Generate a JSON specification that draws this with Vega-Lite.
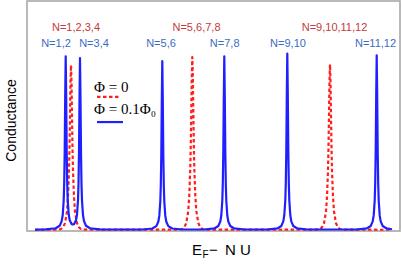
{
  "$schema": "https://vega.github.io/schema/vega-lite/v6.json",
  "width": 373,
  "height": 230,
  "autosize": {"type": "none"},
  "padding": {"left": 27, "top": 1, "right": 2, "bottom": 33},
  "config": {
    "view": {"stroke": "#a3a3a3", "strokeWidth": 1.5},
    "axis": {"ticks": false, "labels": false, "domain": false, "grid": false}
  },
  "datasets": {
    "red": [
      {"x": 8, "y": 0.0005}, {"x": 29, "y": 0.0007}, {"x": 34, "y": 0.0036}, {"x": 36, "y": 0.011}, {"x": 38, "y": 0.029}, {"x": 40, "y": 0.079}, {"x": 41, "y": 0.144}, {"x": 42, "y": 0.259}, {"x": 42.5, "y": 0.36}, {"x": 43, "y": 0.498}, {"x": 43.5, "y": 0.648}, {"x": 44, "y": 0.72}, {"x": 44.5, "y": 0.648}, {"x": 45, "y": 0.498}, {"x": 45.5, "y": 0.36}, {"x": 46, "y": 0.259}, {"x": 47, "y": 0.144}, {"x": 48, "y": 0.079}, {"x": 50, "y": 0.029}, {"x": 52, "y": 0.011}, {"x": 54, "y": 0.0036}, {"x": 59, "y": 0.0007},
      {"x": 150.3, "y": 0.0008}, {"x": 155.3, "y": 0.0038}, {"x": 157.3, "y": 0.0113}, {"x": 159.3, "y": 0.03}, {"x": 161.3, "y": 0.083}, {"x": 162.3, "y": 0.151}, {"x": 163.3, "y": 0.272}, {"x": 163.8, "y": 0.378}, {"x": 164.3, "y": 0.522}, {"x": 164.8, "y": 0.68}, {"x": 165.3, "y": 0.755}, {"x": 165.8, "y": 0.68}, {"x": 166.3, "y": 0.522}, {"x": 166.8, "y": 0.378}, {"x": 167.3, "y": 0.272}, {"x": 168.3, "y": 0.151}, {"x": 169.3, "y": 0.083}, {"x": 171.3, "y": 0.03}, {"x": 173.3, "y": 0.0113}, {"x": 175.3, "y": 0.0038}, {"x": 180.3, "y": 0.0008},
      {"x": 288, "y": 0.0007}, {"x": 293, "y": 0.0036}, {"x": 295, "y": 0.011}, {"x": 297, "y": 0.029}, {"x": 299, "y": 0.08}, {"x": 300, "y": 0.145}, {"x": 301, "y": 0.26}, {"x": 301.5, "y": 0.362}, {"x": 302, "y": 0.5}, {"x": 302.5, "y": 0.651}, {"x": 303, "y": 0.723}, {"x": 303.5, "y": 0.651}, {"x": 304, "y": 0.5}, {"x": 304.5, "y": 0.362}, {"x": 305, "y": 0.26}, {"x": 306, "y": 0.145}, {"x": 307, "y": 0.08}, {"x": 309, "y": 0.029}, {"x": 311, "y": 0.011}, {"x": 313, "y": 0.0036}, {"x": 318, "y": 0.0007}, {"x": 365, "y": 0.0005}
    ],
    "blue": [
      {"x": 8, "y": 0.001}, {"x": 18.7, "y": 0.002}, {"x": 28.7, "y": 0.007}, {"x": 32.7, "y": 0.018}, {"x": 34.7, "y": 0.038}, {"x": 35.7, "y": 0.064}, {"x": 36.7, "y": 0.129}, {"x": 37.2, "y": 0.202}, {"x": 37.7, "y": 0.34}, {"x": 38.2, "y": 0.58}, {"x": 38.7, "y": 0.758}, {"x": 39.2, "y": 0.58}, {"x": 39.7, "y": 0.341}, {"x": 40.2, "y": 0.204}, {"x": 40.7, "y": 0.131}, {"x": 41.7, "y": 0.067}, {"x": 42.7, "y": 0.042}, {"x": 44.7, "y": 0.025}, {"x": 45.85, "y": 0.0235}, {"x": 47, "y": 0.025}, {"x": 49, "y": 0.042}, {"x": 50, "y": 0.066}, {"x": 51, "y": 0.13}, {"x": 51.5, "y": 0.202}, {"x": 52, "y": 0.337}, {"x": 52.5, "y": 0.574}, {"x": 53, "y": 0.75}, {"x": 53.5, "y": 0.573}, {"x": 54, "y": 0.337}, {"x": 54.5, "y": 0.2}, {"x": 55, "y": 0.128}, {"x": 56, "y": 0.064}, {"x": 57, "y": 0.038}, {"x": 59, "y": 0.018}, {"x": 63, "y": 0.007}, {"x": 73, "y": 0.002},
      {"x": 115.3, "y": 0.0015}, {"x": 125.3, "y": 0.0059}, {"x": 129.3, "y": 0.0162}, {"x": 131.3, "y": 0.0355}, {"x": 132.3, "y": 0.0609}, {"x": 133.3, "y": 0.1238}, {"x": 133.8, "y": 0.1953}, {"x": 134.3, "y": 0.3294}, {"x": 134.8, "y": 0.5631}, {"x": 135.3, "y": 0.737}, {"x": 135.8, "y": 0.5631}, {"x": 136.3, "y": 0.3294}, {"x": 136.8, "y": 0.1953}, {"x": 137.3, "y": 0.1238}, {"x": 138.3, "y": 0.0609}, {"x": 139.3, "y": 0.0355}, {"x": 141.3, "y": 0.0162}, {"x": 145.3, "y": 0.0059}, {"x": 155.3, "y": 0.0015},
      {"x": 177.3, "y": 0.0015}, {"x": 187.3, "y": 0.0061}, {"x": 191.3, "y": 0.0167}, {"x": 193.3, "y": 0.0365}, {"x": 194.3, "y": 0.0626}, {"x": 195.3, "y": 0.1273}, {"x": 195.8, "y": 0.2009}, {"x": 196.3, "y": 0.3388}, {"x": 196.8, "y": 0.5791}, {"x": 197.3, "y": 0.758}, {"x": 197.8, "y": 0.5791}, {"x": 198.3, "y": 0.3388}, {"x": 198.8, "y": 0.2009}, {"x": 199.3, "y": 0.1273}, {"x": 200.3, "y": 0.0626}, {"x": 201.3, "y": 0.0365}, {"x": 203.3, "y": 0.0167}, {"x": 207.3, "y": 0.0061}, {"x": 217.3, "y": 0.0015},
      {"x": 240.3, "y": 0.0015}, {"x": 250.3, "y": 0.0062}, {"x": 254.3, "y": 0.0169}, {"x": 256.3, "y": 0.0371}, {"x": 257.3, "y": 0.0636}, {"x": 258.3, "y": 0.1294}, {"x": 258.8, "y": 0.2041}, {"x": 259.3, "y": 0.3442}, {"x": 259.8, "y": 0.5883}, {"x": 260.3, "y": 0.77}, {"x": 260.8, "y": 0.5883}, {"x": 261.3, "y": 0.3442}, {"x": 261.8, "y": 0.2041}, {"x": 262.3, "y": 0.1294}, {"x": 263.3, "y": 0.0636}, {"x": 264.3, "y": 0.0371}, {"x": 266.3, "y": 0.0169}, {"x": 270.3, "y": 0.0062}, {"x": 280.3, "y": 0.0015},
      {"x": 329.7, "y": 0.0015}, {"x": 339.7, "y": 0.0061}, {"x": 343.7, "y": 0.0168}, {"x": 345.7, "y": 0.0368}, {"x": 346.7, "y": 0.063}, {"x": 347.7, "y": 0.1282}, {"x": 348.2, "y": 0.2022}, {"x": 348.7, "y": 0.3411}, {"x": 349.2, "y": 0.5829}, {"x": 349.7, "y": 0.763}, {"x": 350.2, "y": 0.5829}, {"x": 350.7, "y": 0.3411}, {"x": 351.2, "y": 0.2022}, {"x": 351.7, "y": 0.1282}, {"x": 352.7, "y": 0.063}, {"x": 353.7, "y": 0.0368}, {"x": 355.7, "y": 0.0168}, {"x": 359.7, "y": 0.0061}, {"x": 365, "y": 0.0026}
    ],
    "redLabels": [
      {"x": 49, "y": 0.88, "t": "N=1,2,3,4"},
      {"x": 169.5, "y": 0.88, "t": "N=5,6,7,8"},
      {"x": 307.5, "y": 0.88, "t": "N=9,10,11,12"}
    ],
    "blueLabels": [
      {"x": 29, "y": 0.81, "t": "N=1,2"},
      {"x": 67, "y": 0.81, "t": "N=3,4"},
      {"x": 134, "y": 0.81, "t": "N=5,6"},
      {"x": 197.7, "y": 0.81, "t": "N=7,8"},
      {"x": 261, "y": 0.81, "t": "N=9,10"},
      {"x": 348.5, "y": 0.81, "t": "N=11,12"}
    ],
    "legendText": [
      {"x": 67, "y": 0.624, "t": "Φ = 0"},
      {"x": 67, "y": 0.528, "t": "Φ = 0.1Φ₀"}
    ],
    "legendRed": [{"x": 70, "x2": 93, "y": 0.581}],
    "legendBlue": [{"x": 70, "x2": 96, "y": 0.471}],
    "xTitle": [
      {"x": 165, "y": -0.11, "t": "E"},
      {"x": 182, "y": -0.11, "t": "−"},
      {"x": 198, "y": -0.11, "t": "N U"}
    ],
    "xTitleSub": [{"x": 175.5, "y": -0.125, "t": "F"}]
  },
  "encoding": {
    "x": {"field": "x", "type": "quantitative", "scale": {"domain": [0, 373], "nice": false, "zero": false}, "axis": {"title": null}},
    "y": {"field": "y", "type": "quantitative", "scale": {"domain": [-0.005, 1], "nice": false, "zero": false},
      "axis": {"title": "Conductance", "titleFont": "Liberation Sans", "titleFontSize": 14, "titleFontWeight": "normal", "titleColor": "#000000", "titlePadding": 9, "titleY": 119}}
  },
  "layer": [
    {"data": {"name": "red"}, "mark": {"type": "line", "color": "#ff1f1f", "strokeWidth": 2.2, "strokeDash": [3.5, 2.5], "strokeJoin": "round"}},
    {"data": {"name": "blue"}, "mark": {"type": "line", "color": "#1f1fff", "strokeWidth": 2.2, "strokeJoin": "round"}},
    {"data": {"name": "redLabels"}, "mark": {"type": "text", "font": "Liberation Sans", "fontSize": 11, "color": "#c8383c", "align": "center", "baseline": "middle"}, "encoding": {"text": {"field": "t"}}},
    {"data": {"name": "blueLabels"}, "mark": {"type": "text", "font": "Liberation Sans", "fontSize": 11, "color": "#3b6cc4", "align": "center", "baseline": "middle"}, "encoding": {"text": {"field": "t"}}},
    {"data": {"name": "legendText"}, "mark": {"type": "text", "font": "Liberation Serif", "fontSize": 15, "color": "#000000", "align": "left", "baseline": "middle"}, "encoding": {"text": {"field": "t"}}},
    {"data": {"name": "legendRed"}, "mark": {"type": "rule", "color": "#ff1f1f", "strokeWidth": 2.2, "strokeDash": [3.5, 2.5]}, "encoding": {"x2": {"field": "x2"}}},
    {"data": {"name": "legendBlue"}, "mark": {"type": "rule", "color": "#1f1fff", "strokeWidth": 2.2}, "encoding": {"x2": {"field": "x2"}}},
    {"data": {"name": "xTitle"}, "mark": {"type": "text", "font": "Liberation Sans", "fontSize": 15, "color": "#000000", "align": "left", "baseline": "alphabetic"}, "encoding": {"text": {"field": "t"}}},
    {"data": {"name": "xTitleSub"}, "mark": {"type": "text", "font": "Liberation Sans", "fontSize": 10, "color": "#000000", "align": "left", "baseline": "alphabetic"}, "encoding": {"text": {"field": "t"}}}
  ]
}
